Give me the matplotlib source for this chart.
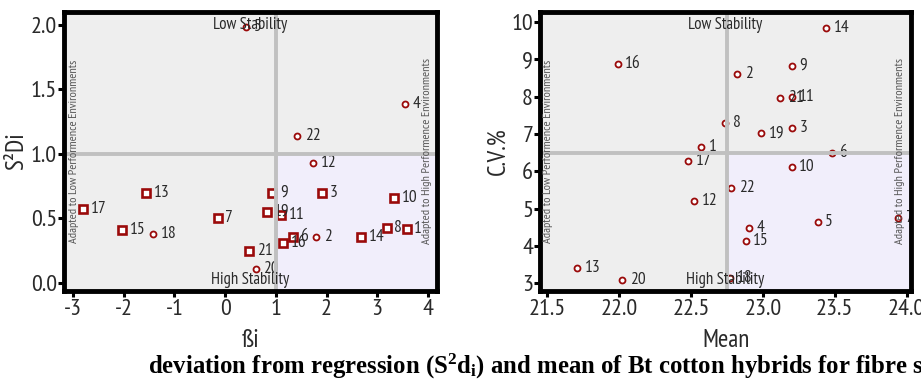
import matplotlib
matplotlib.use("Agg")
import matplotlib.pyplot as plt
from matplotlib.patches import Rectangle

plt.rcParams['font.family'] = ['PT Sans Narrow', 'Roboto Condensed', 'DejaVu Sans']
plt.rcParams['mathtext.fontset'] = 'custom'
plt.rcParams['mathtext.rm'] = 'Liberation Serif:bold'
plt.rcParams['mathtext.it'] = 'Liberation Serif:bold'
plt.rcParams['mathtext.bf'] = 'Liberation Serif:bold'

# ---- data ----
genotypes = [str(i) for i in range(1, 23)]
beta = [3.58, 1.80, 1.92, 3.55, 0.41, 1.33, -0.15, 3.19, 0.93, 3.33, 1.10,
        1.73, -1.56, 2.68, -2.03, 1.15, -2.80, -1.42, 0.82, 0.60, 0.48, 1.42]
s2di = [0.42, 0.36, 0.70, 1.39, 1.98, 0.36, 0.50, 0.43, 0.70, 0.66, 0.53,
        0.93, 0.70, 0.36, 0.41, 0.31, 0.57, 0.38, 0.55, 0.11, 0.25, 1.14]
significant = [True, False, True, False, False, True, True, True, True, True, True,
               False, True, True, True, True, True, False, True, False, True, False]
mean = [22.57, 22.82, 23.20, 22.90, 23.38, 23.48, 23.94, 22.74, 23.20, 23.20, 23.20,
        22.52, 21.71, 23.44, 22.88, 21.99, 22.48, 22.77, 22.99, 22.02, 23.12, 22.78]
cv = [6.64, 8.60, 7.16, 4.48, 4.64, 6.49, 4.75, 7.29, 8.82, 6.12, 8.00,
      5.20, 3.40, 9.84, 4.13, 8.87, 6.27, 3.13, 7.02, 3.08, 7.96, 5.55]

left_xticks = [-3, -2, -1, 0, 1, 2, 3, 4]
left_yticks = [0.0, 0.5, 1.0, 1.5, 2.0]
right_xticks = [21.5, 22.0, 22.5, 23.0, 23.5, 24.0]
right_yticks = [3, 4, 5, 6, 7, 8, 9, 10]

RED = '#9a0a0a'
GRAY_BG = '#eeeeee'
LAV_BG = '#f1eefb'
LINE = '#c0c0c0'
TXT = '#2a2a2a'

fig = plt.figure(figsize=(9.21, 3.85), dpi=100)
axL = fig.add_axes([64/921, 94/385, 373/921, 279/385])
axR = fig.add_axes([540/921, 94/385, 371/921, 279/385])


def style(ax, xlim, ylim, xt, yt, xfmt, yfmt, vx, hy):
    ax.set_xlim(*xlim)
    ax.set_ylim(*ylim)
    ax.set_facecolor(GRAY_BG)
    ax.add_patch(Rectangle((vx, ylim[0]), xlim[1]-vx, hy-ylim[0],
                           facecolor=LAV_BG, edgecolor='none', zorder=0))
    ax.axvline(vx, color=LINE, lw=2.8, zorder=3)
    ax.axhline(hy, color=LINE, lw=2.8, zorder=3)
    ax.set_xticks(xt)
    ax.set_yticks(yt)
    ax.set_xticklabels([xfmt.format(v) for v in xt])
    ax.set_yticklabels([yfmt.format(v) for v in yt])
    for s in ax.spines.values():
        s.set_linewidth(3.5)
        s.set_color('black')
        s.set_zorder(5)
    ax.tick_params(direction='out', length=4.5, width=2.2, colors='black',
                   labelsize=17.5, labelcolor=TXT)
    ax.tick_params(axis='y', pad=0.5)
    ax.tick_params(axis='x', pad=1.5)
    ax.text(0.5, 0.955, 'Low Stability', transform=ax.transAxes, ha='center',
            va='center', fontsize=12, color=TXT, zorder=6)
    ax.text(0.5, 0.04, 'High Stability', transform=ax.transAxes, ha='center',
            va='center', fontsize=12, color=TXT, zorder=6)


style(axL, (-3.18, 4.18), (-0.062, 2.10), left_xticks, left_yticks,
      '{:g}', '{:.1f}', 1.0, 1.0)
style(axR, (21.45, 24.03), (2.79, 10.27), right_xticks, right_yticks,
      '{:.1f}', '{:g}', 22.75, 6.5)

VT = dict(rotation=90, ha='center', va='center', fontsize=8.7, color='#555555', zorder=6)
axL.text(0.027, 0.5, 'Adapted to Low Performence Environments', transform=axL.transAxes, **VT)
axL.text(0.973, 0.5, 'Adapted to High Performence Environments', transform=axL.transAxes, **VT)
axR.text(0.021, 0.5, 'Adapted to Low Performence Environments', transform=axR.transAxes, **VT)
axR.text(0.971, 0.5, 'Adapted to High Performence Environments', transform=axR.transAxes, **VT)

# left panel points
for g, x, y, sig in zip(genotypes, beta, s2di, significant):
    if sig:
        axL.plot(x, y, marker='s', ms=5.2, mfc='white', mec=RED, mew=1.9, zorder=2)
    else:
        axL.plot(x, y, marker='o', ms=4.3, mfc='white', mec=RED, mew=1.3, zorder=2)
    axL.annotate(g, (x, y), xytext=(5.5, 0), textcoords='offset points',
                 ha='left', va='center', fontsize=12.5, color=TXT, zorder=2.5,
                 clip_on=True)

# right panel points
for g, x, y in zip(genotypes, mean, cv):
    axR.plot(x, y, marker='o', ms=4.3, mfc='white', mec=RED, mew=1.3, zorder=2)
    axR.annotate(g, (x, y), xytext=(5.5, 0), textcoords='offset points',
                 ha='left', va='center', fontsize=12.5, color=TXT, zorder=2.5,
                 clip_on=True)

for ax, xl, yl, yx in ((axL, 'ßi', 'S²Di', -0.128), (axR, 'Mean', 'C.V.%', -0.113)):
    ax.set_xlabel(xl, fontsize=18, color=TXT)
    ax.set_ylabel(yl, fontsize=18, color=TXT)
    ax.xaxis.label.set_va('center')
    ax.yaxis.label.set_va('center')
    ax.xaxis.set_label_coords(0.5, -0.176)
    ax.yaxis.set_label_coords(yx, 0.5)

fig.text(148/921, 11/385,
         r'deviation from regression (S$^{\mathrm{2}}$d$_{\mathrm{i}}$) and mean of Bt cotton hybrids for fibre strength',
         fontsize=17.8, fontweight='bold', family='Liberation Serif', ha='left',
         va='baseline', color='black')

fig.savefig('out.png', dpi=100)
